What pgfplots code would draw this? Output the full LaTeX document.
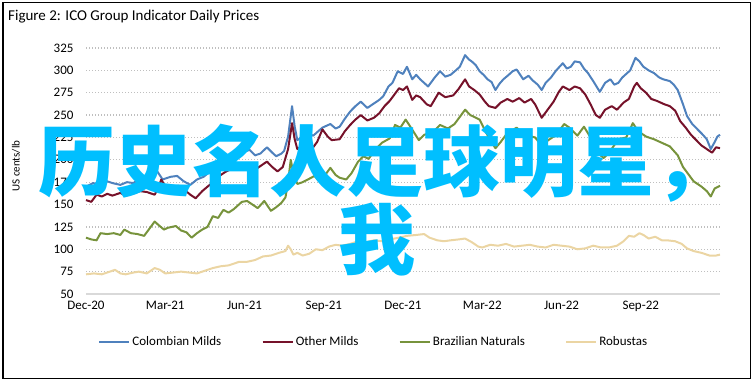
\documentclass[border=0pt]{standalone}
\usepackage{pgfplots}
\pgfplotsset{compat=1.18}
\usepackage{fontspec}
\setmainfont{Carlito}
\newfontfamily\cjk{Noto Sans CJK SC}

\definecolor{colblue}{RGB}{79,129,189}
\definecolor{othred}{RGB}{118,18,42}
\definecolor{brgreen}{RGB}{119,147,60}
\definecolor{robtan}{RGB}{235,213,163}
\definecolor{ovcyan}{RGB}{0,191,255}
\definecolor{gridgray}{RGB}{191,191,191}
\definecolor{axgray}{RGB}{217,217,217}

\newcommand\overtext[3]{%
  \node[anchor=base west, inner sep=0, text=ovcyan, font=\fontsize{77bp}{80bp}\cjk\bfseries] at (#1,#2) {#3};}

\begin{document}
\begin{tikzpicture}[x=1bp,y=1bp]
\useasboundingbox (0,0) rectangle (755,382);
\draw[line width=1.5bp] (2.75,3.75) rectangle (750.5,379.25);
\node[anchor=base west, inner sep=0, font=\fontsize{15bp}{18bp}\selectfont] at (8,361.5) {Figure 2: ICO Group Indicator Daily Prices};
\node[rotate=90, inner sep=0, font=\fontsize{11bp}{13bp}\selectfont] at (16,216) {US cents/lb};
\begin{axis}[
  at={(86bp,88bp)}, anchor=south west, scale only axis,
  width=634bp, height=246bp,
  xmin=0, xmax=24, ymin=50, ymax=325,
  axis line style={draw=none},
  major tick length=0pt,
  xtick={0,3,...,21},
  xticklabels={Dec-20,Mar-21,Jun-21,Sep-21,Dec-21,Mar-22,Jun-22,Sep-22},
  ytick={75,100,...,325},
  extra y ticks={50},
  extra y tick style={grid style={solid, draw=axgray, line width=1.5bp}},
  ymajorgrids,
  grid style={draw=gridgray, dash pattern=on 1.2bp off 1.8bp, line width=1.2bp},
  tick label style={font=\fontsize{13bp}{15bp}\selectfont},
  /pgf/number format/assume math mode=true,
  yticklabel style={xshift=-9bp},
  xticklabel style={yshift=-4bp},
  legend columns=4,
  legend style={draw=none, fill=none, at={(0.4535,-0.195)}, anchor=center,
    font=\fontsize{13bp}{15bp}\selectfont,
    /tikz/every even column/.append style={column sep=38bp},
    /tikz/every odd column/.append style={column sep=0bp}},
  legend image code/.code={\draw[#1, line width=2.5bp] (0bp,0bp) -- (30bp,0bp);},
  every axis plot/.append style={line width=2bp, line join=round},
  clip=false,
]
\addplot[colblue] coordinates {
(0,170)(0.27,174)(0.53,172)(0.8,176)(1.0,174)(1.3,172)(1.55,175)(1.8,174)(2.05,180)(2.3,177)(2.55,183)(2.7,187)(2.9,178)(3.2,181)(3.45,182)(3.7,176)(3.95,172)(4.2,178)(4.45,181)(4.7,187)(4.95,191)(5.25,200)(5.5,204)(5.7,207)(5.95,209)(6.2,211)(6.4,205)(6.6,207)(6.85,214)(7.05,208)(7.2,204)(7.4,207)(7.5,210)(7.65,226)(7.8,260)(7.9,237)(8.0,222)(8.2,226)(8.35,230)(8.6,227)(8.95,236)(9.25,240)(9.45,235)(9.6,237)(9.8,246)(10.0,254)(10.2,260)(10.4,265)(10.65,258)(10.9,263)(11.1,267)(11.25,271)(11.45,282)(11.6,286)(11.8,299)(12.0,296)(12.15,304)(12.35,290)(12.5,295)(12.65,290)(12.95,282)(13.2,292)(13.4,299)(13.6,293)(13.8,295)(14.0,300)(14.15,304)(14.35,317)(14.5,312)(14.6,310)(14.75,306)(14.9,299)(15.05,295)(15.2,290)(15.35,287)(15.5,278)(15.65,285)(15.8,290)(16.0,295)(16.15,299)(16.3,301)(16.55,290)(16.75,294)(16.9,289)(17.1,284)(17.25,278)(17.4,286)(17.6,292)(17.8,300)(18.05,308)(18.2,302)(18.35,304)(18.5,310)(18.7,309)(18.85,302)(19.0,297)(19.2,288)(19.45,276)(19.65,286)(19.85,290)(20.0,284)(20.15,286)(20.3,292)(20.45,296)(20.6,300)(20.8,314)(20.95,310)(21.1,304)(21.3,300)(21.5,297)(21.7,292)(21.85,290)(22.1,288)(22.25,284)(22.4,278)(22.6,262)(22.75,249)(22.95,240)(23.15,234)(23.35,228)(23.5,223)(23.65,212)(23.8,220)(23.9,226)(24.0,228)
};
\addlegendentry{Colombian Milds}
\addplot[othred] coordinates {
(0,155)(0.2,153)(0.4,161)(0.6,159)(0.8,162)(1.0,160)(1.3,163)(1.5,160)(1.75,162)(2.05,165)(2.3,164)(2.6,161)(2.75,170)(2.85,178)(3.0,170)(3.2,168)(3.5,171)(3.7,167)(3.95,161)(4.15,157)(4.4,165)(4.6,170)(4.85,176)(5.05,182)(5.25,186)(5.5,190)(5.75,195)(6.0,196)(6.2,192)(6.4,189)(6.6,193)(6.85,198)(7.05,192)(7.25,187)(7.45,192)(7.65,212)(7.8,241)(7.9,223)(8.0,212)(8.2,216)(8.4,212)(8.6,214)(8.75,220)(8.95,234)(9.15,226)(9.3,222)(9.6,223)(9.8,232)(10.0,239)(10.2,245)(10.4,250)(10.65,244)(10.9,247)(11.1,252)(11.3,260)(11.5,266)(11.7,274)(11.85,280)(12.0,278)(12.15,282)(12.35,267)(12.5,272)(12.65,270)(12.9,262)(13.05,260)(13.35,275)(13.6,270)(13.9,272)(14.1,279)(14.35,290)(14.5,282)(14.7,278)(14.9,273)(15.1,265)(15.25,260)(15.5,258)(15.7,264)(15.95,268)(16.15,265)(16.4,269)(16.6,264)(16.85,268)(17.0,262)(17.25,247)(17.45,255)(17.7,265)(17.9,276)(18.05,282)(18.3,278)(18.5,282)(18.7,280)(18.9,273)(19.1,262)(19.3,250)(19.45,247)(19.65,256)(19.9,260)(20.1,256)(20.35,264)(20.55,268)(20.75,282)(20.85,286)(21.0,280)(21.2,275)(21.4,268)(21.6,266)(21.9,262)(22.1,260)(22.3,255)(22.5,243)(22.7,236)(22.9,228)(23.1,222)(23.3,216)(23.5,212)(23.7,208)(23.85,214)(24.0,213)
};
\addlegendentry{Other Milds}
\addplot[brgreen] coordinates {
(0,113)(0.2,111)(0.4,110)(0.55,118)(0.8,117)(1.05,118)(1.3,116)(1.45,122)(1.7,118)(1.95,117)(2.2,115)(2.45,125)(2.6,131)(2.75,127)(2.95,122)(3.1,124)(3.4,126)(3.6,121)(3.8,119)(4.0,113)(4.2,118)(4.4,122)(4.6,125)(4.8,137)(5.0,135)(5.2,144)(5.4,141)(5.6,145)(5.9,153)(6.1,154)(6.3,150)(6.5,146)(6.75,154)(7.0,143)(7.2,147)(7.4,152)(7.55,158)(7.65,175)(7.75,200)(7.85,185)(8.0,173)(8.2,175)(8.4,178)(8.65,182)(8.9,174)(9.1,185)(9.25,191)(9.45,183)(9.6,180)(9.85,178)(10.05,185)(10.3,198)(10.5,204)(10.7,201)(10.9,210)(11.2,219)(11.5,224)(11.7,239)(11.9,236)(12.1,245)(12.3,236)(12.6,222)(12.8,228)(13.1,230)(13.4,239)(13.7,235)(13.95,240)(14.35,256)(14.55,250)(14.9,245)(15.1,233)(15.3,222)(15.5,213)(15.7,220)(15.9,228)(16.3,236)(16.6,228)(17.0,225)(17.25,216)(17.5,222)(17.8,228)(18.1,240)(18.3,236)(18.6,227)(18.85,237)(19.1,225)(19.4,207)(19.6,202)(19.85,210)(20.15,223)(20.45,225)(20.7,241)(20.9,232)(21.2,226)(21.5,223)(21.8,219)(22.1,215)(22.4,205)(22.6,192)(22.8,184)(23.0,176)(23.3,170)(23.5,165)(23.65,159)(23.8,168)(24.0,171)
};
\addlegendentry{Brazilian Naturals}
\addplot[robtan] coordinates {
(0,72)(0.3,73)(0.6,72)(0.9,75)(1.1,77)(1.3,73)(1.5,72)(1.8,74)(2.0,75)(2.3,73)(2.6,79)(2.8,77)(3.0,73)(3.3,74)(3.6,75)(3.9,74)(4.2,73)(4.5,76)(4.8,79)(5.1,81)(5.4,82)(5.8,86)(6.1,86)(6.4,88)(6.7,92)(7.0,93)(7.3,96)(7.55,98)(7.65,104)(7.75,100)(7.85,94)(8.0,96)(8.2,93)(8.45,95)(8.7,100)(8.95,99)(9.2,103)(9.45,105)(9.7,104)(10.0,106)(10.3,109)(10.6,108)(10.9,110)(11.2,109)(11.5,111)(11.85,113)(12.15,115)(12.5,116)(12.8,117)(13.0,113)(13.3,110)(13.55,109)(13.8,110)(14.1,111)(14.35,112)(14.6,108)(14.85,103)(15.0,102)(15.3,105)(15.6,104)(15.9,106)(16.2,103)(16.5,104)(16.8,105)(17.1,103)(17.4,102)(17.7,105)(18.0,104)(18.3,103)(18.6,100)(18.9,101)(19.2,104)(19.5,102)(19.8,102)(20.1,104)(20.35,109)(20.55,115)(20.75,114)(20.95,118)(21.1,116)(21.3,112)(21.55,114)(21.8,110)(22.0,110)(22.3,109)(22.55,106)(22.75,101)(23.0,98)(23.3,96)(23.6,93)(23.85,93)(24.0,94)
};
\addlegendentry{Robustas}
\end{axis}
\overtext{38}{192}{历史名人足球明星，}
\overtext{338}{114}{我}
\end{tikzpicture}
\end{document}
